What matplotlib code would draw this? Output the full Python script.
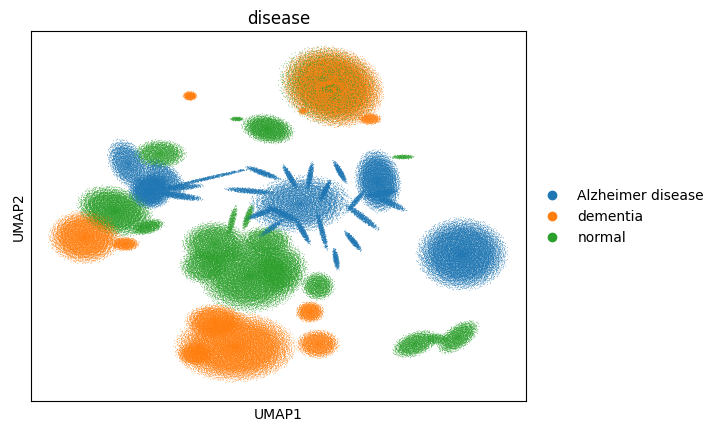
import numpy as np
import matplotlib
matplotlib.use('Agg')
import matplotlib.pyplot as plt

# categories and colours (scanpy default palette)
categories = ['Alzheimer disease', 'dementia', 'normal']
palette = ['#1f77b4', '#ff7f0e', '#2ca02c']

# blobs: centre (UMAP1, UMAP2), radii, rotation, cells, category index
blob_x = [7.08, 6.9, 8.56, 5.88, 1.36, 4.48, 3.24, 9.88,
          -1.12, -0.24, 0.3, 0.16, 1.96, 0.96, 1.1, -1.64, -0.32, -2.84, -1.24,
          5.76, 8.88,
          3.76, 4.28, 5.36, 6.16, 6.76, 7.36, 8.24, 9.0, 5.88, 6.64, 7.88, 7.2, 5.08,
          4.2, 4.6, 9.4, 8.0,
          3.76, 2.36, 6.48, 3.04, 3.68, 1.9, 5.0, 4.4,
          3.16, 2.36, 1.56, 6.16, 6.48,
          12.24, 10.36, 11.24, 12.08]
blob_y = [9.56, 9.6, 8.28, 8.6, 9.2, 7.88, 8.28, 6.76,
          6.48, 5.4, 5.9, 6.88, 5.88, 5.2, 5.55, 4.6, 3.96, 3.56, 3.28,
          4.88, 5.8,
          5.4, 6.12, 5.96, 6.0, 5.4, 6.16, 4.36, 5.3, 3.76, 3.8, 3.4, 2.68, 4.48,
          4.5, 3.9, 4.9, 5.0,
          2.0, 3.28, 1.6, 4.2, 4.36, 2.4, 2.3, 3.4,
          -0.84, 0.2, -1.12, 0.56, -0.72,
          2.88, -0.72, -0.52, -0.44]
blob_rx = [1.7, 1.7, 0.4, 0.16, 0.24, 0.88, 0.24, 0.4,
           0.6, 0.72, 0.9, 0.88, 1.8, 0.8, 0.7, 1.28, 0.56, 1.2, 0.48,
           1.7, 0.75,
           0.88, 0.64, 0.5, 0.5, 0.45, 0.45, 0.75, 0.6, 0.5, 0.7, 0.45, 0.4, 0.7,
           0.6, 0.5, 0.6, 0.5,
           1.7, 1.1, 0.56, 0.56, 0.48, 0.8, 0.9, 0.9,
           2.0, 1.0, 0.6, 0.48, 0.72,
           1.5, 0.8, 0.4, 0.8]
blob_ry = [1.3, 1.3, 0.2, 0.12, 0.16, 0.48, 0.08, 0.08,
           0.9, 0.6, 0.5, 0.48, 0.06, 0.12, 0.1, 0.8, 0.24, 0.88, 0.24,
           0.95, 1.05,
           0.1, 0.1, 0.1, 0.1, 0.1, 0.1, 0.12, 0.12, 0.1, 0.1, 0.1, 0.1, 0.12,
           0.1, 0.1, 0.12, 0.1,
           1.2, 0.75, 0.48, 0.12, 0.12, 0.6, 0.9, 0.5,
           1.15, 0.56, 0.4, 0.36, 0.48,
           1.2, 0.4, 0.2, 0.4]
blob_angle = [-15, -15, 0, 0, 0, -10, 0, 0,
              30, 0, -40, 0, 13, -8, 5, -15, 15, 0, 0,
              5, 10,
              -5, -20, -60, 80, 63, -60, -37, 10, -60, -75, -50, -80, -25,
              20, 35, -25, 50,
              0, 0, 0, 75, 70, 0, 0, 0,
              0, 0, 0, 0, 0,
              0, 20, 0, 35]
blob_n = [10000, 3000, 300, 60, 250, 1800, 80, 120,
          1500, 2500, 1200, 1200, 400, 400, 250, 4000, 500, 4000, 500,
          4000, 3500,
          350, 300, 250, 250, 250, 250, 350, 300, 250, 300, 250, 200, 300,
          250, 200, 250, 200,
          7000, 2500, 800, 200, 200, 1200, 1800, 1200,
          9000, 2000, 800, 700, 1200,
          7000, 1000, 200, 1000]
blob_cat = [1, 2, 1, 1, 1, 2, 2, 2,
            0, 0, 0, 2, 0, 0, 0, 2, 2, 1, 1,
            0, 0,
            0, 0, 0, 0, 0, 0, 0, 0, 0, 0, 0, 0, 0,
            0, 0, 0, 0,
            2, 2, 2, 2, 2, 2, 2, 2,
            1, 1, 1, 1, 1,
            0, 2, 2, 2]


def halton(i, base):
    f, r = 1.0, np.zeros(len(i))
    i = i.copy()
    while np.any(i > 0):
        f = f / base
        r = r + f * (i % base)
        i = i // base
    return r


# fill each blob with a Halton pattern: even core, soft ragged edge
xs, ys, cs = [], [], []
offset = 1
for x0, y0, rx, ry, ang, n, c in zip(blob_x, blob_y, blob_rx, blob_ry,
                                     blob_angle, blob_n, blob_cat):
    n = n * 2
    i = np.arange(offset, offset + n)
    offset += n
    u = halton(i, 2)
    v = halton(i, 3)
    w = halton(i, 5)
    r = u ** 0.55 * (0.75 + 0.5 * w)
    t = 2 * np.pi * v
    ex, ey = rx * r * np.cos(t), ry * r * np.sin(t)
    th = np.deg2rad(ang)
    xs.append(x0 + ex * np.cos(th) - ey * np.sin(th))
    ys.append(y0 + ex * np.sin(th) + ey * np.cos(th))
    cs.append(np.full(n, c))

xs = np.concatenate(xs)
ys = np.concatenate(ys)
cs = np.concatenate(cs)
order = np.argsort((np.arange(len(xs)) * 0.6180339887) % 1.0)
xs, ys, cs = xs[order], ys[order], cs[order]
colors = np.array(palette)[cs]

fig = plt.figure(figsize=(7.19, 4.31), dpi=100)
ax = fig.add_axes([0.0431, 0.0673, 0.6885, 0.8585])
ax.scatter(xs, ys, c=colors, s=0.3, linewidths=0, rasterized=True)
for cat, col in zip(categories, palette):
    ax.scatter([], [], c=col, label=cat)
ax.legend(frameon=False, loc='center left', bbox_to_anchor=(1, 0.5), fontsize=10)
ax.set_xlim(-5, 14.8)
ax.set_ylim(-3, 11.8)
ax.set_xticks([])
ax.set_yticks([])
ax.set_xlabel('UMAP1')
ax.set_ylabel('UMAP2')
ax.set_title('disease', fontsize=12)

fig.savefig('out.png', dpi=100)
